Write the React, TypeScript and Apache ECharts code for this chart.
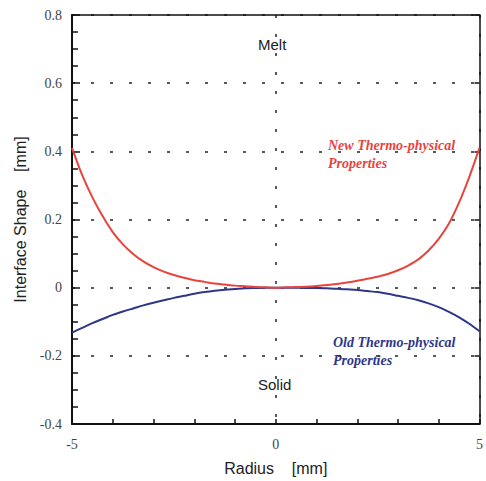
import React, { useEffect, useRef } from "react";
import * as echarts from "echarts";

const radius = [
  -5, -4.75, -4.5, -4.25, -4, -3.75, -3.5, -3.25, -3, -2.75, -2.5, -2.25, -2, -1.75, -1.5, -1.25, -1, -0.75, -0.5, -0.25,
  0, 0.25, 0.5, 0.75, 1, 1.25, 1.5, 1.75, 2, 2.25, 2.5, 2.75, 3, 3.25, 3.5, 3.75, 4, 4.25, 4.5, 4.75, 5,
];
const newProps = [
  0.41, 0.33, 0.265, 0.21, 0.163, 0.127, 0.099, 0.077, 0.06, 0.047, 0.037, 0.029, 0.022, 0.017, 0.012, 0.009, 0.006, 0.004, 0.002, 0.001,
  0, 0.001, 0.002, 0.003, 0.005, 0.008, 0.011, 0.015, 0.02, 0.026, 0.032, 0.04, 0.051, 0.065, 0.083, 0.109, 0.143, 0.188, 0.25, 0.325, 0.41,
];
const oldProps = [
  -0.132, -0.118, -0.104, -0.092, -0.08, -0.07, -0.061, -0.052, -0.044, -0.037, -0.03, -0.024, -0.018, -0.013, -0.009, -0.006, -0.004, -0.002, -0.001, 0,
  0, 0, 0, -0.001, -0.001, -0.002, -0.003, -0.005, -0.007, -0.01, -0.013, -0.018, -0.024, -0.03, -0.037, -0.046, -0.057, -0.071, -0.087, -0.106, -0.128,
];
const xTickLabels = ["-5", "0", "5"];
const yTickLabels = ["-0.4", "-0.2", "0", "0.2", "0.4", "0.6", "0.8"];

const RED = "#e8443e";
const BLUE = "#2e3688";
const SERIF = "'Liberation Serif', 'Times New Roman', serif";
const SANS = "'Liberation Sans', Arial, sans-serif";

export default function App() {
  const ref = useRef<HTMLDivElement>(null);
  useEffect(() => {
    if (!ref.current) return;
    const chart = echarts.init(ref.current, null, { renderer: "svg" });
    const dotted = { color: "#222", width: 1.5, type: [3, 16] as any };
    chart.setOption({
      animation: false,
      backgroundColor: "#fff",
      grid: { left: 72, right: 3, top: 15, bottom: 57, containLabel: false },
      xAxis: [
        {
          type: "value",
          min: -5,
          max: 5,
          interval: 1,
          position: "bottom",
          name: "Radius    [mm]",
          nameLocation: "middle",
          nameGap: 36,
          nameTextStyle: { fontFamily: SANS, fontSize: 16, color: "#222" },
          axisLine: { show: true, onZero: false, lineStyle: { color: "#111", width: 2 } },
          axisTick: { show: true, inside: true, length: 5, lineStyle: { color: "#111", width: 1.5 } },
          axisLabel: {
            margin: 13,
            fontFamily: SERIF,
            fontSize: 14,
            color: "#444",
            formatter: (v: number) => (xTickLabels.includes(String(v)) ? String(v) : ""),
          },
          splitLine: { show: false },
        },
        {
          type: "value",
          min: -5,
          max: 5,
          interval: 5,
          position: "top",
          axisLine: { show: true, onZero: false, lineStyle: { color: "#111", width: 1.5 } },
          axisTick: { show: false },
          axisLabel: { show: false },
          splitLine: { show: true, lineStyle: dotted },
        },
      ],
      yAxis: [
        {
          type: "value",
          min: -0.4,
          max: 0.8,
          interval: 0.2,
          position: "left",
          name: "Interface Shape    [mm]",
          nameLocation: "middle",
          nameGap: 42,
          nameTextStyle: { fontFamily: SANS, fontSize: 16, color: "#222" },
          axisLine: { show: true, onZero: false, lineStyle: { color: "#111", width: 2 } },
          axisTick: { show: true, inside: true, length: 8, lineStyle: { color: "#111", width: 1.5 } },
          minorTick: { show: true, splitNumber: 4, length: 6, lineStyle: { color: "#111", width: 1.5 } },
          axisLabel: {
            margin: 10,
            fontFamily: SERIF,
            fontSize: 14,
            color: "#444",
            formatter: (v: number) => {
              const s = String(Math.round(v * 10) / 10);
              return yTickLabels.includes(s) ? s : "";
            },
          },
          splitLine: { show: true, lineStyle: dotted },
        },
        {
          type: "value",
          min: -0.4,
          max: 0.8,
          interval: 0.2,
          position: "right",
          axisLine: { show: true, onZero: false, lineStyle: { color: "#111", width: 1.5 } },
          axisTick: { show: true, inside: true, length: 5, lineStyle: { color: "#111", width: 1.5 } },
          axisLabel: { show: false },
          splitLine: { show: false },
        },
      ],
      series: [
        {
          name: "New Thermo-physical Properties",
          type: "line",
          smooth: 0.3,
          showSymbol: false,
          lineStyle: { color: RED, width: 2 },
          data: radius.map((r, i) => [r, newProps[i]]),
          z: 3,
        },
        {
          name: "Old Thermo-physical Properties",
          type: "line",
          smooth: 0.3,
          showSymbol: false,
          lineStyle: { color: BLUE, width: 2 },
          data: radius.map((r, i) => [r, oldProps[i]]),
          z: 2,
        },
      ],
      graphic: [
        { type: "text", left: 258, top: 37, style: { text: "Melt", font: `15px ${SANS}`, fill: "#222" } },
        { type: "text", left: 258, top: 377, style: { text: "Solid", font: `15px ${SANS}`, fill: "#222" } },
        {
          type: "text",
          left: 328,
          top: 136,
          style: { text: "New Thermo-physical\nProperties", font: `italic bold 14px ${SERIF}`, fill: RED, lineHeight: 18 },
        },
        {
          type: "text",
          left: 333,
          top: 333,
          style: { text: "Old Thermo-physical\nProperties", font: `italic bold 14px ${SERIF}`, fill: BLUE, lineHeight: 18 },
        },
      ],
    });
    return () => chart.dispose();
  }, []);
  return <div ref={ref} style={{ width: 486, height: 481, position: "absolute", left: 0, top: 0 }} />;
}
